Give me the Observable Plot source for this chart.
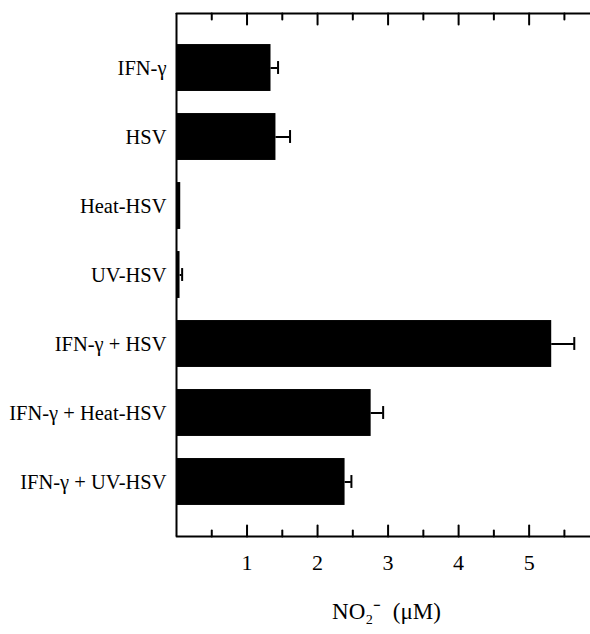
<!DOCTYPE html>
<html><head><meta charset="utf-8">
<script src="https://cdn.jsdelivr.net/npm/d3@7"></script>
<script src="https://cdn.jsdelivr.net/npm/@observablehq/plot@0.6"></script>
<style>body{margin:0;background:#fff;overflow:hidden} svg{display:block}</style>
</head><body><div id="chart"></div>
<script>
const categories = ["IFN-γ","HSV","Heat-HSV","UV-HSV","IFN-γ + HSV","IFN-γ + Heat-HSV","IFN-γ + UV-HSV"];
const means = [1.34, 1.41, 0.06, 0.05, 5.32, 2.76, 2.39];
const errors = [0.10, 0.20, 0, 0.03, 0.32, 0.17, 0.09];
const majorTicks = [1, 2, 3, 4, 5];
const minorTicks = [0.5, 1.5, 2.5, 3.5, 4.5, 5.5];
const xLabel = "NO₂⁻  (μM)";
const xMax = 5.87;

const W = 590, H = 634, mT = 13, mB = 98, mL = 176;
const majorLen = 11, minorLen = 6;
const lineShape = {draw(context, l) { context.moveTo(0, 0); context.lineTo(0, -l); }};

const data = categories.map((c, i) => ({name: c, value: means[i], hi: means[i] + errors[i], err: errors[i]}));
const errData = data.filter(d => d.err > 0);

function ticks(values, len, anchor) {
  return Plot.vectorX(values, {
    x: d => d, frameAnchor: anchor, rotate: anchor === "bottom" ? 0 : 180,
    length: len, anchor: "start", shape: lineShape, stroke: "black", strokeWidth: 2
  });
}
function edge(anchor) {
  return Plot.vectorX([0], {
    x: d => d, frameAnchor: anchor, rotate: 90,
    length: W - mL, anchor: "start", shape: lineShape, stroke: "black", strokeWidth: 2
  });
}

const chart = Plot.plot({
  width: W, height: H,
  marginLeft: mL, marginRight: 0, marginTop: mT, marginBottom: mB,
  style: {fontFamily: "'Liberation Serif', 'Times New Roman', serif", background: "white", color: "black", overflow: "visible"},
  x: {domain: [0, xMax]},
  y: {domain: categories, paddingInner: 0.32, paddingOuter: 0.45, round: false},
  marks: [
    Plot.barX(data, {x: "value", y: "name", fill: "black"}),
    Plot.ruleY(errData, {x1: "value", x2: "hi", y: "name", stroke: "black", strokeWidth: 2}),
    Plot.tickX(errData, {x: "hi", y: "name", stroke: "black", strokeWidth: 2, insetTop: 17, insetBottom: 17}),
    Plot.axisY({tickSize: 0, tickPadding: 10, fontSize: 20.5, label: null}),
    Plot.axisX({anchor: "bottom", ticks: majorTicks, tickSize: 0, tickPadding: 18, tickFormat: d3.format("d"), fontSize: 22, label: null}),
    Plot.ruleX([0], {x: d => d, stroke: "black", strokeWidth: 2}),
    edge("top"),
    edge("bottom"),
    ticks(majorTicks, majorLen, "bottom"),
    ticks(minorTicks, minorLen, "bottom"),
    ticks(majorTicks, majorLen, "top"),
    ticks(minorTicks, minorLen, "top"),
    Plot.text([xLabel], {frameAnchor: "bottom", lineAnchor: "top", dy: 66, dx: 3, fontSize: 23})
  ]
});
document.getElementById("chart").append(chart);
</script>
</body></html>
